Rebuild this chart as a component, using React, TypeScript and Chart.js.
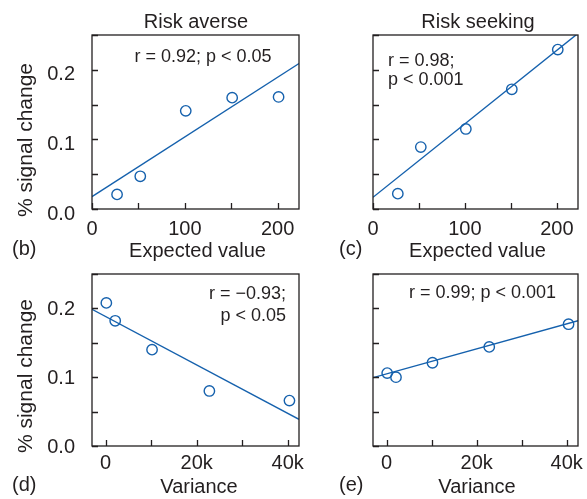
import React, { useEffect, useRef } from 'react';
import { Chart, registerables } from 'chart.js';

Chart.register(...registerables);

const FONT = '"Liberation Sans", Arial, Helvetica, sans-serif';
const BLUE = '#1561ad';
const INK = '#231f20';

// ---- data ----
const evLevels = [27, 52, 101, 151, 201];
const riskAverseEvSignal = [0.021, 0.047, 0.141, 0.16, 0.161];
const riskSeekingEvSignal = [0.022, 0.089, 0.115, 0.172, 0.229];
const varianceLevels = [150, 2100, 10200, 22800, 40400];
const riskAverseVarSignal = [0.208, 0.182, 0.14, 0.08, 0.066];
const riskSeekingVarSignal = [0.106, 0.1, 0.121, 0.144, 0.177];

const evFitX = [0, 223];
const riskAverseEvFit = [0.0177, 0.209];
const riskSeekingEvFit = [0.0168, 0.2523];
const varFitX = [-3000, 42500];
const riskAverseVarFit = [0.1987, 0.0388];
const riskSeekingVarFit = [0.0993, 0.182];

// ---- ticks ----
const yTickValues = [0, 0.05, 0.1, 0.15, 0.2, 0.25];
const yTickLabels = ['0.0', '', '0.1', '', '0.2', ''];
const evTickValues = [0, 50, 100, 150, 200];
const evTickLabels = ['0', '', '100', '', '200'];
const varTickValues = [0, 10000, 20000, 30000, 40000];
const varTickLabels = ['0', '', '20k', '', '40k'];

type TextItem = {
  text: string;
  x: number;
  y: number;
  align?: CanvasTextAlign;
  size?: number;
  rotate?: boolean;
};

type PanelDef = {
  left: number;
  top: number;
  width: number;
  height: number;
  area: { l: number; t: number; r: number; b: number };
  xMin: number;
  xMax: number;
  xTicks: number[];
  xTickLabels: string[];
  xLabelPad: number;
  yLabels: boolean;
  yLabelOffset: number;
  xs: number[];
  ys: number[];
  fitX: number[];
  fitY: number[];
  texts: TextItem[];
};

const panels: PanelDef[] = [
  {
    left: 0, top: 0, width: 330, height: 280,
    area: { l: 92, t: 35, r: 299, b: 209 },
    xMin: 0, xMax: 223, xTicks: evTickValues, xTickLabels: evTickLabels, xLabelPad: 0,
    yLabels: true, yLabelOffset: 5,
    xs: evLevels, ys: riskAverseEvSignal, fitX: evFitX, fitY: riskAverseEvFit,
    texts: [
      { text: 'Risk averse', x: 196, y: 28, align: 'center', size: 20 },
      { text: 'r = 0.92; p < 0.05', x: 203, y: 62, align: 'center', size: 18 },
      { text: 'Expected value', x: 197.5, y: 257, align: 'center', size: 20 },
      { text: '(b)', x: 12, y: 255, align: 'left', size: 20 },
      { text: '% signal change', x: 31.5, y: 140, align: 'center', size: 21, rotate: true },
    ],
  },
  {
    left: 300, top: 0, width: 330, height: 280,
    area: { l: 373, t: 35, r: 578, b: 209 },
    xMin: 0, xMax: 223, xTicks: evTickValues, xTickLabels: evTickLabels, xLabelPad: 0,
    yLabels: false, yLabelOffset: 5,
    xs: evLevels, ys: riskSeekingEvSignal, fitX: evFitX, fitY: riskSeekingEvFit,
    texts: [
      { text: 'Risk seeking', x: 478, y: 28, align: 'center', size: 20 },
      { text: 'r = 0.98;', x: 388, y: 66, align: 'left', size: 18 },
      { text: 'p < 0.001', x: 388, y: 85, align: 'left', size: 18 },
      { text: 'Expected value', x: 477.5, y: 257, align: 'center', size: 20 },
      { text: '(c)', x: 339, y: 255, align: 'left', size: 20 },
    ],
  },
  {
    left: 0, top: 230, width: 330, height: 269,
    area: { l: 92, t: 274, r: 299, b: 446 },
    xMin: -3000, xMax: 42500, xTicks: varTickValues, xTickLabels: varTickLabels, xLabelPad: -3,
    yLabels: true, yLabelOffset: 1.5,
    xs: varianceLevels, ys: riskAverseVarSignal, fitX: varFitX, fitY: riskAverseVarFit,
    texts: [
      { text: 'r = \u22120.93;', x: 286, y: 299, align: 'right', size: 18 },
      { text: 'p < 0.05', x: 286, y: 321, align: 'right', size: 18 },
      { text: 'Variance', x: 199, y: 493, align: 'center', size: 20 },
      { text: '(d)', x: 12, y: 491, align: 'left', size: 20 },
      { text: '% signal change', x: 31.5, y: 376, align: 'center', size: 21, rotate: true },
    ],
  },
  {
    left: 300, top: 230, width: 330, height: 269,
    area: { l: 373, t: 274, r: 578, b: 446 },
    xMin: -3000, xMax: 42500, xTicks: varTickValues, xTickLabels: varTickLabels, xLabelPad: -3,
    yLabels: false, yLabelOffset: 1.5,
    xs: varianceLevels, ys: riskSeekingVarSignal, fitX: varFitX, fitY: riskSeekingVarFit,
    texts: [
      { text: 'r = 0.99; p < 0.001', x: 482.5, y: 298, align: 'center', size: 18 },
      { text: 'Variance', x: 477, y: 493, align: 'center', size: 20 },
      { text: '(e)', x: 339, y: 491, align: 'left', size: 20 },
    ],
  },
];

function Panel({ def }: { def: PanelDef }) {
  const ref = useRef<HTMLCanvasElement | null>(null);

  useEffect(() => {
    const canvas = ref.current;
    if (!canvas) return;

    const framePlugin = {
      id: 'frameAndText',
      afterDraw(chart: any) {
        const ctx = chart.ctx as CanvasRenderingContext2D;
        const ca = chart.chartArea;
        const xs = chart.scales.x;
        const ys = chart.scales.y;
        ctx.save();
        ctx.strokeStyle = INK;
        ctx.lineWidth = 1.3;
        const tl = 6;
        ctx.beginPath();
        for (const t of ys.ticks) {
          const p = Math.round(ys.getPixelForValue(t.value)) + 0.5;
          ctx.moveTo(ca.left, p);
          ctx.lineTo(ca.left + tl, p);
        }
        for (const t of xs.ticks) {
          const p = Math.round(xs.getPixelForValue(t.value)) + 0.5;
          ctx.moveTo(p, ca.bottom);
          ctx.lineTo(p, ca.bottom - tl);
        }
        ctx.stroke();
        ctx.strokeRect(ca.left, ca.top, ca.right - ca.left, ca.bottom - ca.top);
        ctx.fillStyle = INK;
        for (const item of def.texts) {
          ctx.font = `${item.size || 20}px ${FONT}`;
          ctx.textAlign = item.align || 'left';
          ctx.textBaseline = 'alphabetic';
          const x = item.x - def.left;
          const y = item.y - def.top;
          if (item.rotate) {
            ctx.save();
            ctx.translate(x, y);
            ctx.rotate(-Math.PI / 2);
            ctx.fillText(item.text, 0, 0);
            ctx.restore();
          } else {
            ctx.fillText(item.text, x, y);
          }
        }
        ctx.restore();
      },
    };

    const chart = new Chart(canvas, {
      type: 'scatter',
      data: {
        datasets: [
          {
            type: 'line',
            data: def.fitX.map((x, i) => ({ x, y: def.fitY[i] })),
            borderColor: BLUE,
            borderWidth: 1.4,
            pointRadius: 0,
            fill: false,
            tension: 0,
            order: 2,
          } as any,
          {
            type: 'scatter',
            data: def.xs.map((x, i) => ({ x, y: def.ys[i] })),
            pointStyle: 'circle',
            pointRadius: 5.2,
            pointBorderWidth: 1.4,
            pointBorderColor: BLUE,
            pointBackgroundColor: 'rgba(0,0,0,0)',
            borderColor: BLUE,
            backgroundColor: 'rgba(0,0,0,0)',
            order: 1,
          } as any,
        ],
      },
      options: {
        responsive: false,
        maintainAspectRatio: false,
        animation: false,
        events: [],
        layout: {
          padding: {
            top: def.area.t - def.top,
            right: def.left + def.width - def.area.r,
            left: 0,
            bottom: 0,
          },
        },
        plugins: {
          legend: { display: false },
          tooltip: { enabled: false },
          title: { display: false },
        },
        scales: {
          x: {
            type: 'linear',
            position: 'bottom',
            min: def.xMin,
            max: def.xMax,
            grid: { display: false },
            border: { display: false },
            afterBuildTicks: (s: any) => {
              s.ticks = def.xTicks.map((v) => ({ value: v }));
            },
            ticks: {
              autoSkip: false,
              maxRotation: 0,
              minRotation: 0,
              padding: def.xLabelPad,
              color: INK,
              font: { family: FONT, size: 20 },
              callback: (v: any) => {
                const i = def.xTicks.indexOf(Number(v));
                return i >= 0 ? def.xTickLabels[i] : '';
              },
            },
            afterFit: (s: any) => {
              s.height = def.top + def.height - def.area.b;
            },
          },
          y: {
            type: 'linear',
            position: 'left',
            min: 0,
            max: 0.25,
            grid: { display: false },
            border: { display: false },
            afterBuildTicks: (s: any) => {
              s.ticks = yTickValues.map((v) => ({ value: v }));
            },
            ticks: {
              autoSkip: false,
              padding: 9,
              labelOffset: def.yLabelOffset,
              color: INK,
              font: { family: FONT, size: 20 },
              callback: (v: any) => {
                if (!def.yLabels) return '';
                const i = yTickValues.indexOf(Number(v));
                return i >= 0 ? yTickLabels[i] : '';
              },
            },
            afterFit: (s: any) => {
              s.width = def.area.l - def.left;
            },
          },
        },
      } as any,
      plugins: [framePlugin],
    });

    return () => {
      chart.destroy();
    };
  }, [def]);

  return (
    <canvas
      ref={ref}
      width={def.width}
      height={def.height}
      style={{
        position: 'absolute',
        left: def.left,
        top: def.top,
        width: def.width,
        height: def.height,
      }}
    />
  );
}

export default function App() {
  return (
    <div
      style={{
        position: 'absolute',
        left: 0,
        top: 0,
        width: 587,
        height: 499,
        overflow: 'hidden',
        background: '#ffffff',
      }}
    >
      {panels.map((p, i) => (
        <Panel key={i} def={p} />
      ))}
    </div>
  );
}
